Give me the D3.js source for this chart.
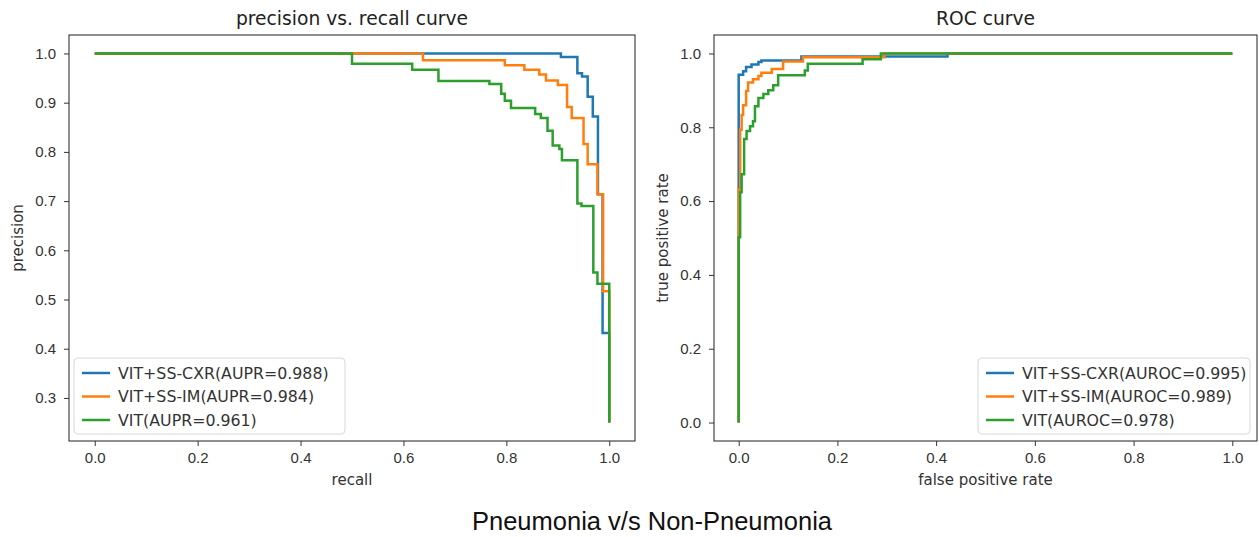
<!DOCTYPE html>
<html>
<head>
<meta charset="utf-8">
<script src="https://cdn.jsdelivr.net/npm/d3@7"></script>
<style>
  body { margin: 0; background: #fff; }
  svg { display: block; font-family: "DejaVu Sans", sans-serif; }
  .tick text { fill: #333; font-size: 15px; }
  .tick line { stroke: #333; }
  .axis-label { fill: #333; font-size: 15px; }
  .panel-title { fill: #222; font-size: 18.7px; }
  .legend text { fill: #333; font-size: 15.8px; }
</style>
</head>
<body>
<div id="chart"></div>
<script>
// ---- data ----
const seriesColors = ['#1f77b4', '#ff7f0e', '#2ca02c'];
const prLegend = ['VIT+SS-CXR(AUPR=0.988)', 'VIT+SS-IM(AUPR=0.984)', 'VIT(AUPR=0.961)'];
const rocLegend = ['VIT+SS-CXR(AUROC=0.995)', 'VIT+SS-IM(AUROC=0.989)', 'VIT(AUROC=0.978)'];

// precision vs recall (step corners)
const prRecallCxr = [0, 0.906, 0.938, 0.947, 0.958, 0.968, 0.978, 0.987, 1.0];
const prPrecisionCxr = [1.0, 0.993, 0.960, 0.953, 0.912, 0.872, 0.714, 0.432, 0.25];
const prRecallIm = [0, 0.638, 0.797, 0.835, 0.864, 0.877, 0.900, 0.918, 0.927, 0.950, 0.958, 0.977, 0.988, 1.0];
const prPrecisionIm = [1.0, 0.986, 0.976, 0.967, 0.957, 0.945, 0.936, 0.891, 0.869, 0.816, 0.775, 0.714, 0.517, 0.25];
const prRecallVit = [0, 0.5, 0.617, 0.668, 0.767, 0.790, 0.797, 0.809, 0.856, 0.867, 0.880, 0.890, 0.903, 0.908, 0.938, 0.946, 0.969, 0.977, 1.0];
const prPrecisionVit = [1.0, 0.979, 0.967, 0.944, 0.938, 0.918, 0.904, 0.889, 0.877, 0.869, 0.843, 0.813, 0.806, 0.783, 0.695, 0.690, 0.555, 0.532, 0.25];

// ROC (step corners)
const rocFprCxr = [0, 0, 0.009, 0.015, 0.026, 0.040, 0.046, 0.127, 0.423, 1.0];
const rocTprCxr = [0, 0.942, 0.952, 0.963, 0.970, 0.977, 0.981, 0.992, 1.0, 1.0];
const rocFprIm = [0, 0, 0.003, 0.006, 0.009, 0.015, 0.019, 0.029, 0.040, 0.046, 0.067, 0.090, 0.130, 0.295, 1.0];
const rocTprIm = [0, 0.632, 0.793, 0.833, 0.860, 0.898, 0.921, 0.930, 0.939, 0.948, 0.958, 0.978, 0.990, 1.0, 1.0];
const rocFprVit = [0, 0, 0.003, 0.006, 0.011, 0.016, 0.023, 0.029, 0.033, 0.040, 0.050, 0.060, 0.070, 0.080, 0.134, 0.140, 0.251, 0.288, 1.0];
const rocTprVit = [0, 0.502, 0.624, 0.673, 0.768, 0.790, 0.803, 0.816, 0.857, 0.879, 0.890, 0.900, 0.914, 0.941, 0.954, 0.972, 0.984, 1.0, 1.0];

const xTicks = [0, 0.2, 0.4, 0.6, 0.8, 1.0];
const prYTicks = [0.3, 0.4, 0.5, 0.6, 0.7, 0.8, 0.9, 1.0];
const rocYTicks = [0, 0.2, 0.4, 0.6, 0.8, 1.0];

const zip = (xs, ys) => xs.map((x, i) => ({ x, y: ys[i] }));

const width = 1259, height = 537;
const svg = d3.select('#chart').append('svg')
  .attr('width', width)
  .attr('height', height);

function drawPanel(cfg) {
  const { left, right, top, bottom } = cfg.box;
  const x = d3.scaleLinear().domain([-0.05, 1.05]).range([left, right]);
  const y = d3.scaleLinear().domain(cfg.yDomain).range([bottom, top]);

  const g = svg.append('g');
  const clipId = 'clip-' + cfg.id;
  svg.append('clipPath').attr('id', clipId)
    .append('rect')
    .attr('x', left).attr('y', top)
    .attr('width', right - left).attr('height', bottom - top);

  // axes
  g.append('g')
    .attr('transform', `translate(0,${bottom})`)
    .call(d3.axisBottom(x).tickValues(xTicks).tickFormat(d3.format('.1f')).tickSize(5).tickPadding(6))
    .call(a => a.select('.domain').remove());
  g.append('g')
    .attr('transform', `translate(${left},0)`)
    .call(d3.axisLeft(y).tickValues(cfg.yTicks).tickFormat(d3.format('.1f')).tickSize(5).tickPadding(8))
    .call(a => a.select('.domain').remove());

  // curves
  const line = d3.line()
    .x(d => x(d.x))
    .y(d => y(d.y))
    .curve(d3.curveStepAfter);

  g.append('g')
    .attr('clip-path', `url(#${clipId})`)
    .selectAll('path')
    .data(cfg.series)
    .join('path')
    .attr('d', d => line(d))
    .attr('fill', 'none')
    .attr('stroke', (d, i) => seriesColors[i])
    .attr('stroke-width', 2.5)
    .attr('stroke-linejoin', 'miter');

  // frame
  g.append('rect')
    .attr('x', left).attr('y', top)
    .attr('width', right - left).attr('height', bottom - top)
    .attr('fill', 'none')
    .attr('stroke', '#333')
    .attr('stroke-width', 1.1);

  // title and labels
  const cx = (left + right) / 2;
  g.append('text')
    .attr('class', 'panel-title')
    .attr('x', cx).attr('y', top - 10)
    .attr('text-anchor', 'middle')
    .text(cfg.title);
  g.append('text')
    .attr('class', 'axis-label')
    .attr('x', cx).attr('y', bottom + 44)
    .attr('text-anchor', 'middle')
    .text(cfg.xLabel);
  g.append('text')
    .attr('class', 'axis-label')
    .attr('transform', `translate(${cfg.yLabelX},${(top + bottom) / 2}) rotate(-90)`)
    .attr('text-anchor', 'middle')
    .text(cfg.yLabel);

  // legend
  const lg = g.append('g').attr('class', 'legend')
    .attr('transform', `translate(${cfg.legend.x},${cfg.legend.y})`);
  lg.append('rect')
    .attr('width', cfg.legend.w).attr('height', 76)
    .attr('rx', 4)
    .attr('fill', 'rgba(255,255,255,0.85)')
    .attr('stroke', '#d8d8d8');
  cfg.labels.forEach((label, i) => {
    const ly = 15 + i * 23.5;
    lg.append('line')
      .attr('x1', 8).attr('x2', 36)
      .attr('y1', ly).attr('y2', ly)
      .attr('stroke', seriesColors[i])
      .attr('stroke-width', 2.5);
    lg.append('text')
      .attr('x', 44).attr('y', ly)
      .attr('dy', '0.35em')
      .text(label);
  });
}

drawPanel({
  id: 'pr',
  box: { left: 69, right: 635, top: 35, bottom: 441 },
  yDomain: [0.2125, 1.0375],
  yTicks: prYTicks,
  title: 'precision vs. recall curve',
  xLabel: 'recall',
  yLabel: 'precision',
  yLabelX: 23,
  labels: prLegend,
  legend: { x: 74, y: 358, w: 271 },
  series: [zip(prRecallCxr, prPrecisionCxr), zip(prRecallIm, prPrecisionIm), zip(prRecallVit, prPrecisionVit)]
});

drawPanel({
  id: 'roc',
  box: { left: 714, right: 1257, top: 35, bottom: 441 },
  yDomain: [-0.05, 1.05],
  yTicks: rocYTicks,
  title: 'ROC curve',
  xLabel: 'false positive rate',
  yLabel: 'true positive rate',
  yLabelX: 668,
  labels: rocLegend,
  legend: { x: 978, y: 358, w: 272 },
  series: [zip(rocFprCxr, rocTprCxr), zip(rocFprIm, rocTprIm), zip(rocFprVit, rocTprVit)]
});

// figure caption
svg.append('text')
  .attr('x', 652).attr('y', 530)
  .attr('text-anchor', 'middle')
  .style('font-family', '"Liberation Sans", Arial, sans-serif')
  .style('font-size', '25.5px')
  .style('fill', '#111')
  .text('Pneumonia v/s Non-Pneumonia');
</script>
</body>
</html>
